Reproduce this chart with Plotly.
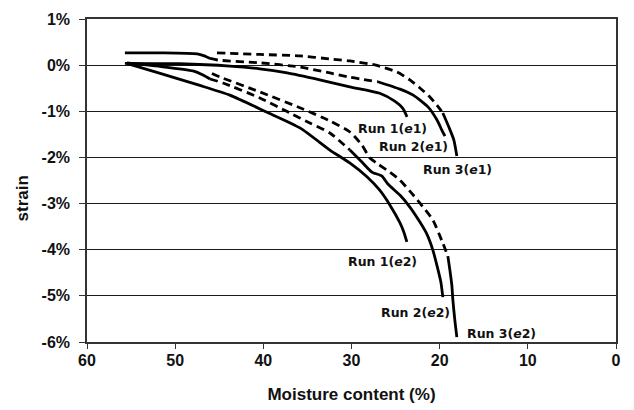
import plotly.graph_objects as go

# ---------------- data (moisture content %, strain %) ----------------
r1e1_mc = [55.7, 49.5, 43.8, 40.4, 37.3, 33.6, 30.2, 26.8, 25.1, 24.2, 23.7]
r1e1_strain = [0.04, 0.03, -0.02, -0.08, -0.17, -0.32, -0.47, -0.61, -0.78, -0.93, -1.12]

r2e1_mc = [55.7, 51.7, 47.5, 46.7, 46.05, 45.15, 40.4, 35.85, 32.45, 30.2, 27.0, 24.5, 23.0, 21.3, 20.3, 19.75, 19.4]
r2e1_strain = [0.265, 0.265, 0.243, 0.20, 0.145, 0.11, 0.05, -0.04, -0.17, -0.26, -0.36, -0.52, -0.65, -0.91, -1.19, -1.41, -1.54]

r3e1_mc = [45.26, 40.39, 35.85, 32.45, 30.18, 27.35, 24.85, 23.38, 22.24, 21.11, 20.32, 19.64, 18.96, 18.39, 18.05]
r3e1_strain = [0.265, 0.232, 0.20, 0.134, 0.091, 0.004, -0.148, -0.321, -0.495, -0.69, -0.863, -1.037, -1.341, -1.623, -1.97]

r1e2_mc = [55.5, 51.7, 47.2, 43.8, 39.7, 35.85, 32.45, 30.2, 28.25, 26.8, 25.65, 24.5, 24.06, 23.72]
r1e2_strain = [0.04, -0.18, -0.44, -0.65, -1.01, -1.36, -1.84, -2.12, -2.42, -2.71, -3.03, -3.42, -3.62, -3.83]

r2e2_mc = [55.46, 51.72, 47.98, 46.85, 46.05, 44.58, 40.39, 36.98, 34.72, 32.45, 30.18, 28.82, 27.69, 26.55,
           25.87, 24.51, 23.38, 22.24, 21.45, 20.77, 20.32, 19.86, 19.64]
r2e2_strain = [0.048, -0.028, -0.126, -0.213, -0.30, -0.386, -0.711, -1.037, -1.254, -1.471, -1.839, -2.10, -2.317,
               -2.404, -2.577, -2.816, -3.076, -3.401, -3.662, -4.009, -4.334, -4.703, -5.029]

r3e2_mc = [45.83, 44.92, 40.39, 35.51, 32.45, 30.18, 28.82, 27.91, 27.01, 25.65, 24.51, 23.38, 22.24, 20.77,
           19.64, 19.07, 18.84, 18.62, 18.50, 18.28, 18.05]
r3e2_strain = [-0.18, -0.256, -0.581, -0.95, -1.21, -1.449, -1.731, -2.013, -2.143, -2.317, -2.49, -2.729, -2.989,
               -3.358, -3.857, -4.139, -4.443, -4.768, -5.094, -5.528, -5.896]

run_labels = ["Run 1(<i>e</i>1)", "Run 2(<i>e</i>1)", "Run 3(<i>e</i>1)",
              "Run 1(<i>e</i>2)", "Run 2(<i>e</i>2)", "Run 3(<i>e</i>2)"]

y_tick_values = [-6, -5, -4, -3, -2, -1, 0, 1]
y_tick_labels = ["-6%", "-5%", "-4%", "-3%", "-2%", "-1%", "0%", "1%"]
x_tick_values = [60, 50, 40, 30, 20, 10, 0]

# ---------------- styling: which index ranges are drawn solid / dashed ----------------
DASH = "8px,5px"
runs = [
    (r1e1_mc, r1e1_strain, [(0, 10, "solid")]),
    (r2e1_mc, r2e1_strain, [(0, 4, "solid"), (4, 10, DASH), (10, 16, "solid")]),
    (r3e1_mc, r3e1_strain, [(0, 11, DASH), (11, 14, "solid")]),
    (r1e2_mc, r1e2_strain, [(0, 13, "solid")]),
    (r2e2_mc, r2e2_strain, [(0, 4, "solid"), (4, 10, DASH), (10, 22, "solid")]),
    (r3e2_mc, r3e2_strain, [(0, 15, DASH), (15, 20, "solid")]),
]

fig = go.Figure()
for mc, st, segs in runs:
    for a, b, dash in segs:
        fig.add_trace(go.Scatter(
            x=mc[a:b + 1], y=st[a:b + 1], mode="lines",
            line=dict(color="black", width=2.8, dash=dash, shape="spline", smoothing=0.6),
            showlegend=False, hoverinfo="skip"))

# label positions (data coordinates)
label_pos = [(25.3, -1.38), (23.0, -1.77), (18.0, -2.27), (26.45, -4.25), (22.75, -5.35), (13.0, -5.82)]
for txt, (lx, ly) in zip(run_labels, label_pos):
    fig.add_annotation(x=lx, y=ly, text=txt, showarrow=False, xanchor="center", yanchor="middle",
                       font=dict(family="DejaVu Sans", size=12.5, color="#111", weight="bold"))

fig.add_annotation(xref="paper", yref="paper", x=-0.122, y=0.446, text="strain", textangle=-90,
                   showarrow=False, xanchor="center", yanchor="middle",
                   font=dict(family="Liberation Sans, Arial", size=17, color="#111", weight="bold"))

axis_font = dict(family="Liberation Sans, Arial", size=16, color="#111", weight="bold")
title_font = dict(family="Liberation Sans, Arial", size=17, color="#111", weight="bold")

fig.update_layout(
    width=634, height=410,
    margin=dict(l=87, r=18, t=19, b=68, autoexpand=False),
    paper_bgcolor="white", plot_bgcolor="white",
    xaxis=dict(range=[60, 0], tickvals=x_tick_values, ticks="outside", ticklen=5, tickwidth=1.3,
               tickcolor="#333", showline=True, linecolor="#333", linewidth=1.5, mirror=True,
               showgrid=False, zeroline=False, tickfont=axis_font, ticklabelstandoff=-2,
               automargin=False,
               title=dict(text="Moisture content (%)", font=title_font, standoff=20)),
    yaxis=dict(range=[-6, 1], tickvals=y_tick_values, ticktext=y_tick_labels, ticks="outside",
               ticklen=6, tickwidth=1.3, tickcolor="#333", showline=True, linecolor="#333",
               linewidth=1.5, mirror=True, showgrid=True, gridcolor="#1a1a1a", gridwidth=1.3,
               zeroline=False, tickfont=axis_font, ticklabelstandoff=6, automargin=False),
)

fig.write_html("out.html")
